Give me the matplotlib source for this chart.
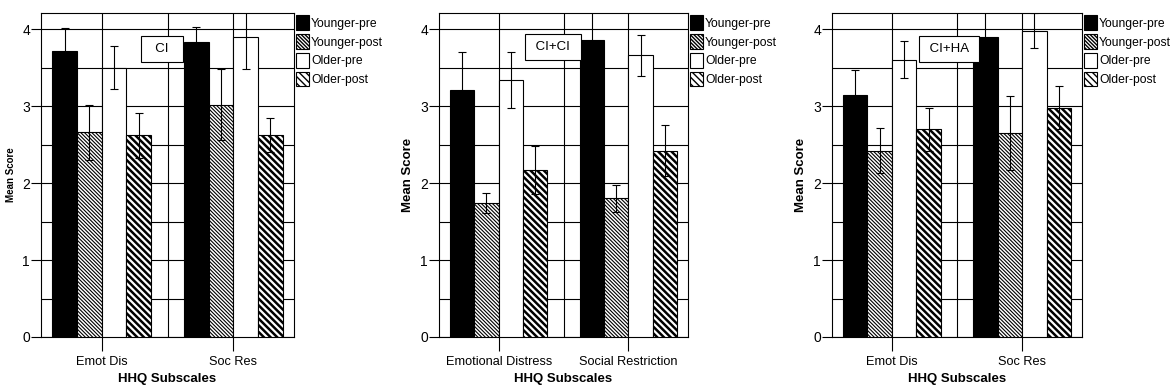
import numpy as np
import matplotlib.pyplot as plt

plt.rcParams['font.family'] = ['Liberation Sans', 'DejaVu Sans']

groups = ['Younger-pre', 'Younger-post', 'Older-pre', 'Older-post']

# panel 1: CI
cats1 = ['Emot Dis', 'Soc Res']
ci_mean = [[3.72, 3.83], [2.66, 3.02], [3.50, 3.90], [2.62, 2.63]]
ci_err = [[0.30, 0.20], [0.36, 0.46], [0.28, 0.42], [0.29, 0.22]]

# panel 2: CI+CI
cats2 = ['Emotional Distress', 'Social Restriction']
cici_mean = [[3.21, 3.86], [1.74, 1.80], [3.34, 3.66], [2.17, 2.42]]
cici_err = [[0.49, 0.36], [0.13, 0.17], [0.36, 0.27], [0.31, 0.33]]

# panel 3: CI+HA
cats3 = ['Emot Dis', 'Soc Res']
ciha_mean = [[3.14, 3.90], [2.42, 2.65], [3.60, 3.98], [2.70, 2.98]]
ciha_err = [[0.33, 0.35], [0.29, 0.48], [0.24, 0.23], [0.28, 0.28]]

styles = [
    dict(color='black', hatch=None, hlw=1.0),
    dict(color='white', hatch='\\' * 9, hlw=0.8),
    dict(color='white', hatch=None, hlw=1.0),
    dict(color='white', hatch='\\' * 5, hlw=1.8),
]

fig = plt.figure(figsize=(11.73, 3.92), dpi=100)

panels = [
    (cats1, ci_mean, ci_err, '  CI  ', (0.46, 3.74), [41, 253], 7),
    (cats2, cici_mean, cici_err, ' CI+CI ', (0.42, 3.77), [439, 249], 9.5),
    (cats3, ciha_mean, ciha_err, ' CI+HA ', (0.44, 3.74), [832, 250], 9.5),
]

W, H = 1173, 392
w = 0.1875
for cats, means, errs, name, (bx, by), (px, pw), ylfs in panels:
    ax = fig.add_axes([px / W, 55 / H, pw / W, 324 / H])
    x = np.arange(len(cats))
    handles = []
    for i, g in enumerate(groups):
        st = styles[i]
        with plt.rc_context({'hatch.linewidth': st['hlw'], 'hatch.color': 'black'}):
            b = ax.bar(x + (i - 1.5) * w, means[i], w, color=st['color'],
                       edgecolor='black', linewidth=0.8, hatch=st['hatch'],
                       yerr=errs[i], error_kw=dict(ecolor='black', elinewidth=0.8,
                                                   capsize=3, capthick=0.8),
                       label=g, zorder=3)
        handles.append(b)
    ax.set_xlim(-0.46, 1.46)
    ax.set_ylim(0, 4.21)
    ax.set_yticks([0, 1, 2, 3, 4])
    ax.set_yticks([0.5, 1.5, 2.5, 3.5], minor=True)
    ax.set_xticks(x)
    ax.set_xticks([0.5], minor=True)
    ax.set_xticklabels(cats, fontsize=9.2)
    ax.tick_params(axis='y', labelsize=10, length=7, width=0.8, pad=1)
    ax.tick_params(axis='x', length=10, width=0.8, pad=4)
    ax.tick_params(which='minor', length=0)
    ax.grid(True, which='both', color='black', linewidth=0.8, zorder=0)
    ax.set_axisbelow(True)
    for s in ax.spines.values():
        s.set_linewidth(0.8)
    ax.set_ylabel('Mean Score', fontsize=ylfs, fontweight='bold')
    ax.set_xlabel('HHQ Subscales', fontsize=9.5, fontweight='bold', labelpad=3)
    ax.text(bx, by, name, ha='center', va='center', fontsize=9.5, zorder=4,
            bbox=dict(boxstyle='square,pad=0.55', fc='white', ec='black', lw=0.8))
    leg = ax.legend(handles=handles, loc='upper left', bbox_to_anchor=(1.0, 1.0),
                    frameon=False, fontsize=8.7, handlelength=1.05, handleheight=1.5,
                    handletextpad=0.15, labelspacing=0.33, borderaxespad=0.05,
                    borderpad=0.15)

plt.savefig('out.png')
